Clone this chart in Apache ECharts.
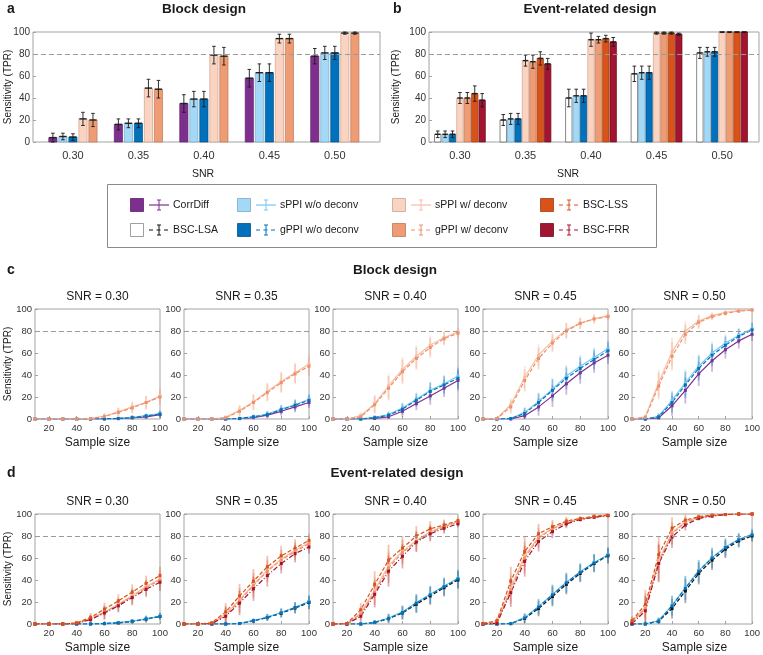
<!DOCTYPE html>
<html><head><meta charset="utf-8">
<script src="https://cdn.jsdelivr.net/npm/echarts@6/dist/echarts.min.js"></script>
<style>html,body{margin:0;padding:0;background:#fff}#c{width:763px;height:655px}</style>
</head><body><div id="c"></div>
<script>
// ---------------- data ----------------
const snrLabels = ['0.30','0.35','0.40','0.45','0.50'];
const sampleSizes = [10,20,30,40,50,60,70,80,90,100];
const xTicks = [20,40,60,80,100];
const threshold = 80;

// panel a: block design bars (by SNR)
const aCorrDiff = [4,16,35,58,78];
const aSppiWo   = [5,17,39,63,81];
const aGppiWo   = [4.5,17,39,63,81];
const aSppiW    = [21,49,79,94,99];
const aGppiW    = [20,48,78,94,99];
const aErrCorrDiff = [4,5,8,8,7];
const aErrSppiWo   = [3,4,7,8,6];
const aErrGppiWo   = [3,4,7,8,6];
const aErrSppiW    = [6,8,8,4,1];
const aErrGppiW    = [6,8,8,4,1];

// panel b: event-related bars (by SNR)
const bBscLsa = [7,20,40,62,81];
const bSppiWo = [7,21,42,63,82];
const bGppiWo = [7,21,42,63,82];
const bSppiW  = [40,74,93,99,100];
const bGppiW  = [40,73,93,99,100];
const bBscLss = [44,76,94,99,100];
const bBscFrr = [38,71,91,98,100];
const bErrBscLsa = [3,5,8,7,5];
const bErrSppiWo = [3,5,6,6,4];
const bErrGppiWo = [3,5,6,6,4];
const bErrSppiW  = [5,5,6,1,0.5];
const bErrGppiW  = [5,6,3,1,0.5];
const bErrBscLss = [7,6,3,1,0.5];
const bErrBscFrr = [6,5,4,1,0.5];

// panel c: block design, TPR vs sample size (one row per SNR)
const cCorrDiff = [
 [0,0,0,0,0,0,0.3,1,2,4],
 [0,0,0,0,0.3,1.2,3.5,7,11,15],
 [0,0,0,0.5,2,7,14,21,28,35],
 [0,0,0,3,11,21,32,42,51,58],
 [0,0,1,12,26,41,53,63,71,77]];
const cSppiWo = [
 [0,0,0,0,0,0.2,0.5,1.5,3,5],
 [0,0,0,0,0.5,2,4.5,9,13,18],
 [0,0,0,1.5,4,10,18,26,32,39],
 [0,0,0.5,6,16,27,39,48,56,64],
 [0,0,2.5,17,33,48,60,69,76,82]];
const cGppiWo = [
 [0,0,0,0,0,0.2,0.5,1.3,2.8,4.5],
 [0,0,0,0,0.5,2,4,8.5,12.5,17],
 [0,0,0,1.2,3.5,9,17,25,31,37],
 [0,0,0.4,5,15,26,37,46,54,62],
 [0,0,2,15,31,46,58,67,75,81]];
const cSppiW = [
 [0,0,0,0,0.5,2.5,6.5,11,15,21],
 [0,0,0,1.5,8,15.5,25,34,42,50],
 [0,0,3,14,30,45,57,67,74,79],
 [0,0.5,13,38,58,71,81,87,91,94],
 [0,2,33,61,80,89,94,97,98.5,99.5]];
const cGppiW = [
 [0,0,0,0,0.4,2.3,6,10,15,20],
 [0,0,0,1,7,15,24,33,41,48],
 [0,0,2,13,28,43,55,65,73,78],
 [0,0.3,11,35,55,69,80,87,91,93],
 [0,1.5,30,57,77,88,93,96,98,99]];
const cErrHi = [
 [0,0,0,0,1,3,4,5,6,7],
 [0,0,0,2,5,7,8,9,9,9],
 [0,0,3,8,11,11,10,9,6,4],
 [0,1,6,10,10,8,7,5,4,3],
 [0,2,12,13,9,6,3,2,1,1]];
const cErrLo = [
 [0,0,0,0,0,0,1,2,2,3],
 [0,0,0,0,1,2,3,4,5,5],
 [0,0,0,2,3,5,6,8,8,9],
 [0,0,1,5,8,10,10,10,9,8],
 [0,0,3,9,12,11,10,8,7,6]];

// panel d: event-related design, TPR vs sample size
const dBscLsa = [
 [0,0,0,0,0,0.3,1,2.3,4.3,6.8],
 [0,0,0,0,0.4,2.8,5.8,9.8,14.5,19.5],
 [0,0,0,1.3,4.8,10,18,25.5,33,40],
 [0,0,0.3,5,14,25,36,46,55,62],
 [0,0,2.5,14,30,46,58,68,75.5,80]];
const dSppiWo = [
 [0,0,0,0,0,0.4,1.2,2.6,4.7,7.2],
 [0,0,0,0,0.5,3,6.3,10.5,15.2,20.3],
 [0,0,0,1.6,5.5,11,19.5,27,34.5,41.5],
 [0,0,0.5,6,16,27,38,47.5,56,63],
 [0,0,3,17,33,48.5,60.5,70,77,81.5]];
const dGppiWo = [
 [0,0,0,0,0,0.4,1.1,2.5,4.6,7],
 [0,0,0,0,0.5,3,6,10.2,15,20],
 [0,0,0,1.5,5.2,10.5,19,26.5,34,41],
 [0,0,0.4,5.5,15.5,26.5,37.5,47,55.5,62.5],
 [0,0,2.8,16.5,32.5,48,60,69.5,76.5,81]];
const dSppiW = [
 [0,0,0,0.8,5,11,18,26,34,41],
 [0,0,0.5,9,22,36,49,59,67,74],
 [0,0.3,10,31,53,66,76,84,89,93],
 [0.3,2,33,62,79,87,92.5,95.5,97.5,98.5],
 [2,15,58,83,93,97,98.5,99.5,100,100]];
const dGppiW = [
 [0,0,0,0.7,4.5,10.5,17.5,25,33,40],
 [0,0,0.4,8,21,35,48,58,66,73],
 [0,0.2,9,29,51,65,75,83,88.5,92.5],
 [0.3,1.8,31,60,78,86.5,92,95,97.3,98.5],
 [1.8,14,56,82,92.5,96.5,98.5,99.5,100,100]];
const dBscLss = [
 [0,0,0,1,6,13.5,21,29,37,44],
 [0,0,1,11,25.5,39,52,62,69,76],
 [0,0.5,13,36,58,69,80,86.5,90,94],
 [0.5,3,39,66,82,88.5,93.5,96,98,99],
 [3,18,63,87,94.5,97.5,99,99.5,100,100]];
const dBscFrr = [
 [0,0,0,0.5,4,10,16.5,24,31.5,38],
 [0,0,0.3,7,19,32,44,55,64,70],
 [0,0,7,27,48,61.5,74.5,82,87,91],
 [0,0.5,28.5,57,75,84,91,95,97,98.5],
 [0.3,12,55,79,90,96,98,99.5,100,100]];
const dErrHi = [
 [0,0,0,2,4,6,6,7,7,8],
 [0,0,2,8,11,11,10,9,8,6],
 [0,1,6,12,14,11,9,7,5,3],
 [1,3,13,14,9,6,4,2,1,1],
 [4,13,17,10,5,2,1,0.5,0,0]];
const dErrLo = [
 [0,0,0,0,0,1,1,2,3,3],
 [0,0,0,0,1,2,3,4,5,6],
 [0,0,0,2,4,6,8,8,8,8],
 [0,0,1,4,7,9,9,8,8,7],
 [0,0,3,9,11,10,9,8,6,5]];

// ---------------- styles ----------------
const FONT = '"Liberation Sans", Arial, Helvetica, sans-serif';
const AX = '#a3a3a3';
const TXT = '#333';
const ST = {
  corrDiff: {name:'CorrDiff', fill:'#7E2F8E', stroke:'#5e1f6c', line:'#7E2F8E', dash:'solid'},
  sppiWo:   {name:'sPPI w/o deconv', fill:'#A3D9F7', stroke:'#7aa9c4', line:'#72C8EF', dash:'solid'},
  gppiWo:   {name:'gPPI w/o deconv', fill:'#0072BD', stroke:'#0a4f80', line:'#0072BD', dash:[4,2]},
  sppiW:    {name:'sPPI w/ deconv', fill:'#FBD3C1', stroke:'#c9a393', line:'#F7BDA3', dash:'solid'},
  gppiW:    {name:'gPPI w/ deconv', fill:'#EF9B74', stroke:'#b9795a', line:'#EE9168', dash:[4,2]},
  bscLsa:   {name:'BSC-LSA', fill:'#ffffff', stroke:'#555', line:'#111111', dash:[4,2]},
  bscLss:   {name:'BSC-LSS', fill:'#D95319', stroke:'#9e3c12', line:'#D95319', dash:[4,2]},
  bscFrr:   {name:'BSC-FRR', fill:'#A2142F', stroke:'#700d20', line:'#A2142F', dash:[5,2,1,2]}
};

// ---------------- layout ----------------
const grids = [], xAxes = [], yAxes = [], series = [], G = [];
function yAxis(gi, fs){
  return {type:'value', gridIndex:gi, min:0, max:100, interval:20,
    axisLine:{show:false}, splitLine:{show:false},
    axisTick:{show:true, inside:true, length:3, lineStyle:{color:AX}},
    axisLabel:{fontSize:fs, color:TXT, margin:3, fontFamily:FONT}};
}
function addGrid(left, top, width, height){
  grids.push({left, top, width, height, show:true, borderColor:AX, borderWidth:1, backgroundColor:'#fff', containLabel:false});
  return grids.length-1;
}
function refLine(gi){
  series.push({type:'line', xAxisIndex:gi, yAxisIndex:gi, data:[], silent:true,
    markLine:{silent:true, symbol:'none', label:{show:false}, animation:false,
      lineStyle:{color:'#9a9a9a', type:[5,3], width:1}, data:[{yAxis:threshold}]}});
}
function txt(s, x, y, size, o){
  o = o || {};
  G.push({type:'text', x, y, rotation:o.rot||0, z:100,
    style:{text:s, font:(o.bold?'bold ':'')+size+'px '+FONT, fill:o.color||'#1a1a1a',
      textAlign:o.align||'center', textVerticalAlign:'middle'}});
}

// bar panels
function barPanel(left, width, xmin, xmax, defs, step, bw){
  const gi = addGrid(left, 32, width, 110);
  xAxes.push({type:'value', gridIndex:gi, min:xmin, max:xmax,
    axisLine:{show:false}, splitLine:{show:false},
    axisTick:{show:true, inside:true, length:3, customValues:[1,2,3,4,5], lineStyle:{color:AX}},
    axisLabel:{customValues:[1,2,3,4,5], formatter:v=>snrLabels[Math.round(v)-1], fontSize:11, color:TXT, margin:8, fontFamily:FONT}});
  yAxes.push(yAxis(gi, 10));
  const n = defs.length;
  defs.forEach((d, k) => {
    const st = ST[d.key];
    series.push({type:'custom', xAxisIndex:gi, yAxisIndex:gi, silent:true,
      data: d.vals.map((v,i)=>[i+1, v, d.err[i]]),
      renderItem:(params, api)=>{
        const c = api.value(0) + (k-(n-1)/2)*step;
        const v = api.value(1), e = api.value(2);
        const tl = api.coord([c-bw/2, v]), br = api.coord([c+bw/2, 0]);
        const hi = api.coord([c, Math.min(100, v+e)]), lo = api.coord([c, Math.max(0, v-e)]);
        const cw = 1.8;
        return {type:'group', children:[
          {type:'rect', shape:{x:tl[0], y:tl[1], width:br[0]-tl[0], height:br[1]-tl[1]},
            style:{fill:st.fill, stroke:st.stroke, lineWidth:0.7}},
          {type:'line', shape:{x1:tl[0]+0.5, y1:tl[1], x2:br[0]-0.5, y2:tl[1]}, style:{stroke:'#222', lineWidth:1.4}},
          {type:'line', shape:{x1:hi[0], y1:hi[1], x2:lo[0], y2:lo[1]}, style:{stroke:'#1a1a1a', lineWidth:0.9}},
          {type:'line', shape:{x1:hi[0]-cw, y1:hi[1], x2:hi[0]+cw, y2:hi[1]}, style:{stroke:'#1a1a1a', lineWidth:0.9}},
          {type:'line', shape:{x1:lo[0]-cw, y1:lo[1], x2:lo[0]+cw, y2:lo[1]}, style:{stroke:'#1a1a1a', lineWidth:0.9}}
        ]};
      }});
  });
  refLine(gi);
  return gi;
}

barPanel(33, 347, 0.39, 5.69, [
  {key:'corrDiff', vals:aCorrDiff, err:aErrCorrDiff},
  {key:'sppiWo', vals:aSppiWo, err:aErrSppiWo},
  {key:'gppiWo', vals:aGppiWo, err:aErrGppiWo},
  {key:'sppiW', vals:aSppiW, err:aErrSppiW},
  {key:'gppiW', vals:aGppiW, err:aErrGppiW}], 0.153, 0.125);
barPanel(429, 330, 0.528, 5.563, [
  {key:'bscLsa', vals:bBscLsa, err:bErrBscLsa},
  {key:'sppiWo', vals:bSppiWo, err:bErrSppiWo},
  {key:'gppiWo', vals:bGppiWo, err:bErrGppiWo},
  {key:'sppiW', vals:bSppiW, err:bErrSppiW},
  {key:'gppiW', vals:bGppiW, err:bErrGppiW},
  {key:'bscLss', vals:bBscLss, err:bErrBscLss},
  {key:'bscFrr', vals:bBscFrr, err:bErrBscFrr}], 0.113, 0.098);

// line panels
const subLefts = [35,184,333,483,632];
const subW = 125;
function linePanel(top, defs){
  subLefts.forEach((left, s) => {
    const gi = addGrid(left, top, subW, 110);
    xAxes.push({type:'value', gridIndex:gi, min:10, max:100,
      axisLine:{show:false}, splitLine:{show:false},
      axisTick:{show:true, inside:true, length:3, customValues:xTicks, lineStyle:{color:AX}},
      axisLabel:{customValues:xTicks, fontSize:9.5, color:TXT, margin:4, fontFamily:FONT}});
    yAxes.push(yAxis(gi, 9.5));
    refLine(gi);
    // error bars first
    defs.forEach(d => {
      const st = ST[d.key];
      const errs = d.err[s];
      series.push({type:'custom', xAxisIndex:gi, yAxisIndex:gi, silent:true, z:2,
        data: sampleSizes.map((x,i)=>[x, d.vals[s][i], errs[i]]),
        renderItem:(params, api)=>{
          const x = api.value(0), v = api.value(1), e = api.value(2);
          const hi = api.coord([x, Math.min(100, v+e)]), lo = api.coord([x, Math.max(0, v-e)]);
          return {type:'line', shape:{x1:hi[0], y1:hi[1], x2:lo[0], y2:lo[1]},
            style:{stroke:st.line, lineWidth:1.8, opacity:0.35}};
        }});
    });
    defs.forEach(d => {
      const st = ST[d.key];
      series.push({type:'line', xAxisIndex:gi, yAxisIndex:gi, silent:true, z:3,
        data: sampleSizes.map((x,i)=>[x, d.vals[s][i]]),
        symbol:'rect', symbolSize:3, showSymbol:true,
        itemStyle:{color:st.line},
        lineStyle:{color:st.line, width:1.2, type:st.dash}, animation:false});
    });
    txt('SNR = ' + snrLabels[s], left + subW/2, top - 12, 12);
    txt('Sample size', left + subW/2, top + 134, 12);
  });
  txt('Sensitivity (TPR)', 8, top + 55, 10, {rot:Math.PI/2});
}
linePanel(309, [
  {key:'corrDiff', vals:cCorrDiff, err:cErrLo},
  {key:'sppiWo', vals:cSppiWo, err:cErrLo},
  {key:'gppiWo', vals:cGppiWo, err:cErrLo},
  {key:'sppiW', vals:cSppiW, err:cErrHi},
  {key:'gppiW', vals:cGppiW, err:cErrHi}]);
linePanel(514, [
  {key:'bscLsa', vals:dBscLsa, err:dErrLo},
  {key:'sppiWo', vals:dSppiWo, err:dErrLo},
  {key:'gppiWo', vals:dGppiWo, err:dErrLo},
  {key:'sppiW', vals:dSppiW, err:dErrHi},
  {key:'gppiW', vals:dGppiW, err:dErrHi},
  {key:'bscFrr', vals:dBscFrr, err:dErrHi},
  {key:'bscLss', vals:dBscLss, err:dErrHi}]);

// texts for panels a/b
txt('a', 7, 9, 14, {bold:true, align:'left'});
txt('Block design', 204, 9, 13.5, {bold:true});
txt('b', 393, 9, 14, {bold:true, align:'left'});
txt('Event-related design', 590, 9, 13.5, {bold:true});
txt('Sensitivity (TPR)', 8, 87, 10, {rot:Math.PI/2});
txt('Sensitivity (TPR)', 396, 87, 10, {rot:Math.PI/2});
txt('SNR', 203, 174, 10.5);
txt('SNR', 568, 174, 10.5);
txt('c', 7, 270, 14, {bold:true, align:'left'});
txt('Block design', 395, 270, 13.5, {bold:true});
txt('d', 7, 473, 14, {bold:true, align:'left'});
txt('Event-related design', 397, 473, 13.5, {bold:true});

// legend box
G.push({type:'rect', shape:{x:107.5, y:184.5, width:549, height:63}, style:{fill:'none', stroke:'#8a8a8a', lineWidth:1}, z:100});
const legendCols = [130, 237, 392, 540];
const legendRows = [205, 230];
const legendKeys = [['corrDiff','bscLsa'],['sppiWo','gppiWo'],['sppiW','gppiW'],['bscLss','bscFrr']];
legendKeys.forEach((col, ci) => col.forEach((key, ri) => {
  const st = ST[key];
  const x = legendCols[ci], y = legendRows[ri];
  G.push({type:'rect', shape:{x:x+0.5, y:y-6.5, width:13, height:13}, style:{fill:st.fill, stroke:key==='bscLsa'?'#888':st.stroke, lineWidth:0.8}, z:100});
  const lc = st.line, dashed = st.dash !== 'solid';
  G.push({type:'line', shape:{x1:x+19, y1:y, x2:x+39, y2:y}, style:{stroke:lc, lineWidth:1.2, lineDash:dashed?[4,3.5]:null}, z:100});
  G.push({type:'line', shape:{x1:x+29, y1:y-5, x2:x+29, y2:y+5}, style:{stroke:lc, lineWidth:1}, z:100});
  G.push({type:'line', shape:{x1:x+27, y1:y-5, x2:x+31, y2:y-5}, style:{stroke:lc, lineWidth:1}, z:100});
  G.push({type:'line', shape:{x1:x+27, y1:y+5, x2:x+31, y2:y+5}, style:{stroke:lc, lineWidth:1}, z:100});
  txt(st.name, x+43, y, 10.5, {align:'left'});
}));

const chart = echarts.init(document.getElementById('c'), null, {renderer:'canvas'});
chart.setOption({animation:false, backgroundColor:'#fff', grid:grids, xAxis:xAxes, yAxis:yAxes, series, graphic:G});
</script></body></html>
